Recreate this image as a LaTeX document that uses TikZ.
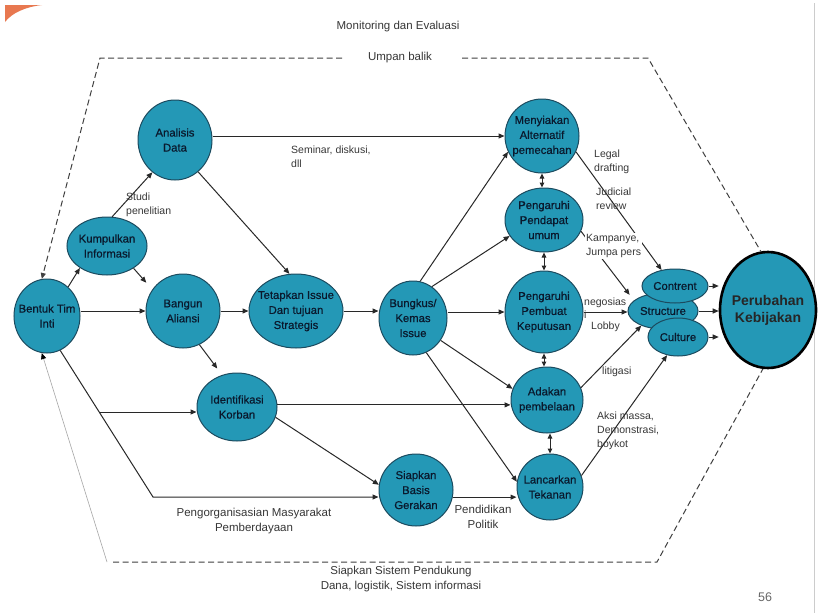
\documentclass[tikz,border=0pt]{standalone}
\usepackage{fontspec}
\setmainfont{Liberation Sans}
\newfontfamily\nodefont[FakeBold=0.6]{Liberation Sans}
\usetikzlibrary{shapes.geometric,arrows.meta,calc}
\definecolor{nodefill}{RGB}{36,152,182}
\definecolor{nodeline}{RGB}{28,75,95}
\definecolor{ntext}{RGB}{10,25,45}
\definecolor{ltext}{RGB}{55,55,55}
\definecolor{linec}{RGB}{40,40,40}
\definecolor{orangec}{RGB}{232,120,80}
\begin{document}
\begin{tikzpicture}[x=1pt,y=-1pt,
 blob/.style={ellipse, draw=nodeline, line width=1pt, fill=nodefill, inner sep=0pt},
 ntxt/.style={font=\nodefont\fontsize{11.3}{15}\selectfont, color=ntext, align=center, inner sep=0pt},
 lbl/.style={font=\fontsize{10.5}{14}\selectfont, text=ltext, align=left, inner sep=0pt, anchor=west},
 big/.style={font=\fontsize{11.5}{15}\selectfont, text=ltext, align=center, inner sep=0pt},
 arr/.style={draw=linec, line width=1pt, -{Triangle[length=6pt,width=5pt]}},
 darr/.style={draw=linec, line width=1pt, {Triangle[length=5pt,width=4.5pt]}-{Triangle[length=5pt,width=4.5pt]}},
 dashline/.style={draw=black!75, line width=1pt, dash pattern=on 6pt off 3.5pt},
]
\fill[white] (0,0) rectangle (820,613);
\useasboundingbox (0,0) rectangle (820,613);
\fill[orangec] (5,5) -- (42,5) .. controls (25,7) and (12,13) .. (5,22) -- cycle;
\draw[black!20, line width=1pt] (814,3) -- (814,613);

% nodes
\node[blob, minimum width=66pt, minimum height=74pt] (bentuk) at (47,316) {};
\node[ntxt] at (bentuk) {Bentuk Tim\\Inti};
\node[blob, minimum width=80pt, minimum height=58pt] (kumpul) at (107,246) {};
\node[ntxt] at (kumpul) {Kumpulkan\\Informasi};
\node[blob, minimum width=74pt, minimum height=80pt] (analisis) at (175,140) {};
\node[ntxt] at (analisis) {Analisis\\Data};
\node[blob, minimum width=74pt, minimum height=74pt] (bangun) at (183,311) {};
\node[ntxt] at (bangun) {Bangun\\Aliansi};
\node[blob, minimum width=94pt, minimum height=74pt] (tetapkan) at (296,311) {};
\node[ntxt] at (tetapkan) {Tetapkan Issue\\Dan tujuan\\Strategis};
\node[blob, minimum width=80pt, minimum height=68pt] (identif) at (237,407) {};
\node[ntxt] at (identif) {Identifikasi\\Korban};
\node[blob, minimum width=68pt, minimum height=74pt] (bungkus) at (413,318) {};
\node[ntxt] at (bungkus) {Bungkus/\\Kemas\\Issue};
\node[blob, minimum width=74pt, minimum height=72pt] (siapkan) at (416,490) {};
\node[ntxt] at (siapkan) {Siapkan\\Basis\\Gerakan};
\node[blob, minimum width=74pt, minimum height=74pt] (menyiakan) at (542,136) {};
\node[ntxt] at (menyiakan) {Menyiakan\\Alternatif\\pemecahan};
\node[blob, minimum width=78pt, minimum height=64pt] (pendapat) at (544,220) {};
\node[ntxt] at (pendapat) {Pengaruhi\\Pendapat\\umum};
\node[blob, minimum width=78pt, minimum height=82pt] (pembuat) at (544,312) {};
\node[ntxt] at (pembuat) {Pengaruhi\\Pembuat\\Keputusan};
\node[blob, minimum width=72pt, minimum height=66pt] (adakan) at (547,400) {};
\node[ntxt] at (adakan) {Adakan\\pembelaan};
\node[blob, minimum width=66pt, minimum height=66pt] (lancar) at (550,487) {};
\node[ntxt] at (lancar) {Lancarkan\\Tekanan};
\node[blob, minimum width=70pt, minimum height=36pt] (structure) at (663,311) {};
\node[ntxt] at (structure) {Structure};
\node[blob, minimum width=66pt, minimum height=34pt] (contrent) at (675,286) {};
\node[ntxt] at (contrent) {Contrent};
\node[blob, minimum width=60pt, minimum height=38pt] (culture) at (678,337) {};
\node[ntxt] at (culture) {Culture};
\node[ellipse, draw=black, line width=2.6pt, fill=nodefill, inner sep=0pt, minimum width=96pt, minimum height=116pt] (perubahan) at (768,310) {};
\node[inner sep=0pt, align=center, font=\bfseries\fontsize{14}{17}\selectfont, color=black!85] at (perubahan) {Perubahan\\Kebijakan};

% connectors
\draw[arr] (bentuk.54) -- (kumpul.219);
\draw[arr] (kumpul.80) -- (analisis.235);
\draw[arr, shorten >=9pt] (kumpul.-40) -- (bangun.145);
\draw[arr] (bangun.west -| bentuk.east) -- (bangun.west);
\draw[arr] (menyiakan.west -| analisis.east) -- (menyiakan.west);
\draw[arr] (analisis.-54) -- (tetapkan.100);
\draw[arr] (bangun.east) -- (tetapkan.west);
\draw[arr, shorten >=8pt] (bangun.-64) -- (identif.115);
\draw[arr] (tetapkan.east) -- (tetapkan.east -| bungkus.west);
\draw[arr] (bungkus.79) -- (menyiakan.205);
\draw[arr] (bungkus.59) -- (pendapat.205);
\draw[arr] (pembuat.west -| bungkus.east) -- (pembuat.west);
\draw[arr] (bungkus.-39) -- (adakan.162);
\draw[arr] (bungkus.-69) -- (lancar.171);
\coordinate (cbend) at (153,497);
\coordinate (cbr) at (99,412);
\draw[arr] (bentuk.-69) -- (cbend) -- (cbend -| siapkan.west);
\draw[arr] (cbr) -- (cbr -| identif.west);
\draw[arr] (identif.3) -- (identif.3 -| adakan.west);
\draw[arr] (identif.-15) -- (siapkan.172);
\draw[arr] (siapkan.-11) -- (siapkan.-11 -| lancar.west);
\draw[darr] (menyiakan.south) -- (menyiakan.south |- pendapat.north);
\draw[darr] (pendapat.south) -- (pembuat.north);
\draw[darr] (pembuat.south) -- (pembuat.south |- adakan.north);
\draw[darr] (adakan.south -| lancar.north) -- (lancar.north);
\draw[arr] (menyiakan.-25) -- (contrent.130);
\draw[arr, shorten >=7pt] (pendapat.-17) -- (structure.160);
\draw[arr] (pembuat.east) -- (pembuat.east -| structure.west);
\draw[arr] (adakan.20) -- (structure.214);
\draw[arr] (lancar.20) -- (culture.239);
\draw[arr] (contrent.east) -- (contrent.east -| perubahan.west);
\draw[arr] (structure.east) -- (structure.east -| perubahan.west);
\draw[arr] (culture.east) -- (culture.east -| perubahan.west);

% dashed frame
\coordinate (tl) at (100,58);
\coordinate (tle) at (342,58);
\coordinate (trs) at (462,58);
\coordinate (tr) at (648,58);
\coordinate (bl) at (113,562);
\coordinate (br) at (657,562);
\coordinate (gl) at (107,562);
\draw[dashline, -{Triangle[length=6pt,width=5pt]}] (tle) -- (tl) -- (bentuk.98);
\draw[dashline] (trs) -- (tr) -- (perubahan.97);
\draw[dashline] (bl) -- (br) -- (perubahan.265);
\draw[black!35, line width=0.6pt, -{Triangle[length=6pt,width=5pt,color=black]}] (gl) -- (bentuk.262);

% labels
\node[lbl] (lsem) at (291,157) {Seminar, diskusi,\\dll};
\node[lbl] (lstudi) at (126,205) {Studi\\penelitian};
\node[lbl] (llegal) at (594,162) {Legal\\drafting};
\node[lbl] (ljud) at (596,199) {Judicial\\review};
\node[lbl, fill=white, inner sep=1pt] (lkamp) at (585,246) {Kampanye,\\Jumpa pers};
\node[lbl, font=\fontsize{10.5}{13}\selectfont] (lneg) at (584,308) {negosias\\i};
\node[lbl] (llob) at (591,327) {Lobby};
\node[lbl] (llit) at (602,372) {litigasi};
\node[lbl] (laksi) at (597,431) {Aksi massa,\\Demonstrasi,\\boykot};
\node[big] (lorg) at (254,521) {Pengorganisasian Masyarakat\\Pemberdayaan};
\node[big] (lpend) at (483,517) {Pendidikan\\Politik};
\node[big] (lmon) at (398,27) {Monitoring dan Evaluasi};
\node[big] (lump) at (400,58) {Umpan balik};
\node[big] (lsis) at (401,579) {Siapkan Sistem Pendukung\\Dana, logistik, Sistem informasi};
\node[big, text=black!60, font=\fontsize{12.5}{15}\selectfont] (lnum) at (765,597) {56};
\end{tikzpicture}
\end{document}
